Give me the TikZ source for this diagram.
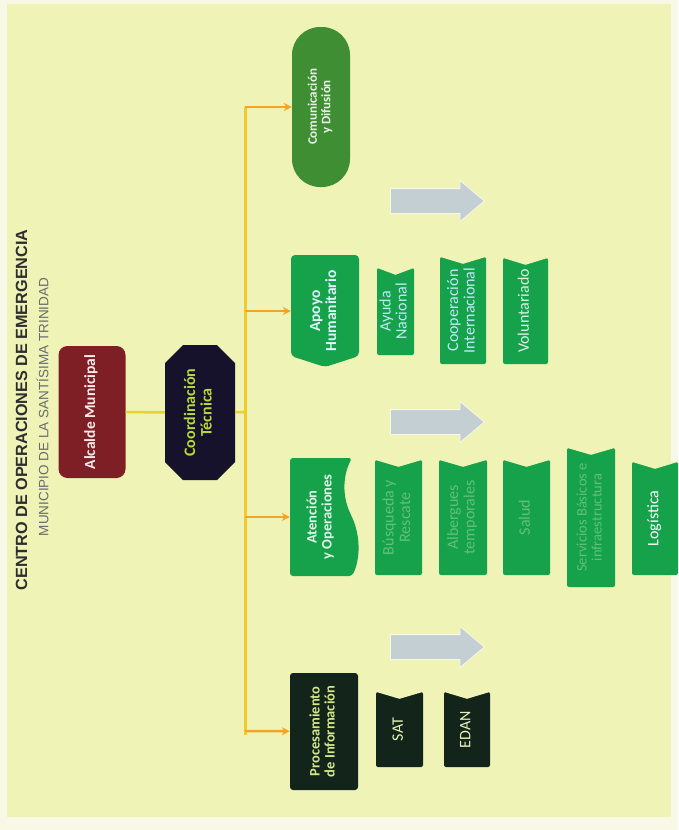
\documentclass[tikz,border=0pt]{standalone}
\usepackage{fontspec}
\setmainfont{Carlito}
\newfontfamily\headfont{Liberation Sans}
\usepackage{graphicx}
\usetikzlibrary{arrows.meta,shapes.arrows}
\definecolor{paper}{HTML}{EFF3B6}
\definecolor{rim}{HTML}{F7F9E6}
\definecolor{mayor}{HTML}{7D1F24}
\definecolor{navy}{HTML}{16122C}
\definecolor{leaf}{HTML}{16A24B}
\definecolor{moss}{HTML}{3F8E33}
\definecolor{night}{HTML}{13241A}
\definecolor{amber}{HTML}{F4A425}
\definecolor{lemon}{HTML}{F0D22E}
\definecolor{haze}{HTML}{C4CFD4}
\definecolor{lime}{HTML}{B9D83A}
\definecolor{faded}{HTML}{62C079}
\tikzset{
  unit/.style={inner sep=0pt,font=\fontsize{14.5}{15}\selectfont\bfseries},
  sub/.style={unit,fill=leaf,rounded corners=2pt,font=\fontsize{16}{16.5}\selectfont},
  lnk/.style={-{Stealth[length=8pt,width=8pt]},line width=2.5pt,draw=amber},
  feed/.style={line width=2.5pt,draw=lemon!80!lime},
  bus/.style={line width=3pt,draw=lemon!85!amber},
  flow/.style={single arrow,fill=haze,draw=rim,line width=0.8pt,minimum height=94pt,
    inner xsep=0pt,inner ysep=12pt,text height=0pt,text depth=0pt,
    single arrow head extend=8pt,single arrow tip angle=80}
}
\newcommand{\vtext}[1]{\rotatebox{90}{\begin{tabular}{@{}c@{}}#1\end{tabular}}}

\begin{document}
\begin{tikzpicture}[x=1pt,y=-1pt]
 \useasboundingbox (0,0) rectangle (678,830);
 \fill[rim] (0,0) rectangle (678,830);
 \fill[paper] (7,4) rectangle (671,817);
 % heading
 \node[rotate=90,font=\headfont\bfseries\fontsize{16.2}{18}\selectfont,text=black!82] (ttl) at (21.5,410) {CENTRO DE OPERACIONES DE EMERGENCIA};
 \node[rotate=90,font=\headfont\fontsize{13.5}{15}\selectfont,text=black!58] (mun) at (42.5,407) {MUNICIPIO DE LA SANTÍSIMA TRINIDAD};
 % mando
 \node[unit,fill=mayor,rounded corners=9pt,minimum width=67pt,minimum height=132pt,text=red!8!white,font=\fontsize{15.5}{16}\selectfont\bfseries] (alc) at (92,412) {\vtext{Alcalde Municipal}};
 \fill[navy] (165,363) -- (183,345) -- (217,345) -- (235,363) -- (235,462) -- (217,480) -- (183,480) -- (165,462) -- cycle;
 \node[unit,minimum width=70pt,minimum height=135pt,text=lime,font=\fontsize{16}{16.5}\selectfont\bfseries] (coord) at (200,412.5) {\vtext{Coordinación\\Técnica}};
 % areas
 \node[unit,fill=moss,rounded corners=28pt,minimum width=58pt,minimum height=160pt,font=\fontsize{13}{13.5}\selectfont\bfseries,text=white!88!moss] (comu) at (321,107) {\vtext{Comunicación\\y Difusión}};
 \fill[leaf,rounded corners=4pt] (291,255) -- (359,255) -- (359,356) -- (325,367) -- (291,356) -- cycle;
 \node[unit,minimum width=68pt,minimum height=112pt,text=cyan!12!white,font=\fontsize{15.5}{16}\selectfont\bfseries] (apoyo) at (325,311) {\vtext{Apoyo\\Humanitario}};
 \fill[leaf,rounded corners=3pt] (290,458) -- (352,458) .. controls (343,475) and (342,495) .. (351,515) .. controls (361,537) and (360,560) .. (352,576) -- (290,576) -- cycle;
 \node[unit,minimum width=62pt,minimum height=118pt,text=white!88!leaf] (aten) at (321,517) {\vtext{Atención\\y Operaciones}};
 \node[unit,fill=night,rounded corners=3pt,minimum width=68pt,minimum height=117pt,text=lime!60!white] (proc) at (324,731.5) {\vtext{Procesamiento\\de Información}};
 % apoyo humanitario
 \node[sub,minimum width=37pt,minimum height=87pt,text=cyan!25!white,font=\fontsize{16}{16}\selectfont] (ayuda) at (395.5,311.5) {\vtext{Ayuda\\Nacional}};
 \node[sub,minimum width=46pt,minimum height=107pt,text=cyan!25!white] (coop) at (463,310.5) {\vtext{Cooperación\\Internacional}};
 \node[sub,minimum width=45pt,minimum height=106pt,text=white!85!leaf] (volu) at (525.5,311) {\vtext{Voluntariado}};
 % atencion y operaciones
 \node[sub,minimum width=47pt,minimum height=115pt,text=faded] (busq) at (398.5,517.5) {\vtext{Búsqueda y\\Rescate}};
 \node[sub,minimum width=48pt,minimum height=115pt,text=faded] (alb) at (463,517.5) {\vtext{Albergues\\temporales}};
 \node[sub,minimum width=47pt,minimum height=115pt,text=faded] (salud) at (526.5,517.5) {\vtext{Salud}};
 \node[sub,minimum width=48pt,minimum height=139pt,text=faded,font=\fontsize{14.5}{15}\selectfont] (serv) at (591,517.5) {\vtext{Servicios Básicos e\\infraestructura}};
 \node[sub,minimum width=46pt,minimum height=113pt,text=white] (logi) at (655,518.5) {\vtext{Logística}};
 % procesamiento
 \node[sub,fill=night,minimum width=47pt,minimum height=75pt,text=lime!35!white] (sat) at (399.5,729.5) {\vtext{SAT}};
 \node[sub,fill=night,minimum width=46pt,minimum height=75pt,text=lime!35!white] (edan) at (467,729.5) {\vtext{EDAN}};
 \foreach \n in {ayuda,coop,volu,busq,alb,salud,serv,logi,sat,edan}
  \fill[paper] (\n.north west) -- ([yshift=-7pt]\n.north) -- (\n.north east) -- cycle;
 % flechas grises
 \node[flow] (go1) at (430,201) {};
 \node[flow] (go2) at (430,422) {};
 \node[flow] (go3) at (430,647) {};
 % lineas
 \coordinate (bt) at (245,107); \coordinate (bb) at (245,735);
 \coordinate (jc) at (245,412); \coordinate (j1) at (245,311);
 \coordinate (j2) at (245,517); \coordinate (j3) at (245,731);
 \draw[bus] (bt)--(bb);
 \draw[feed] (alc)--(coord); \draw[feed] (coord)--(jc);
 \draw[lnk] (bt)--(comu); \draw[lnk] (j1)--(apoyo);
 \draw[lnk] (j2)--(aten); \draw[lnk] (j3)--(proc);
\end{tikzpicture}
\end{document}
